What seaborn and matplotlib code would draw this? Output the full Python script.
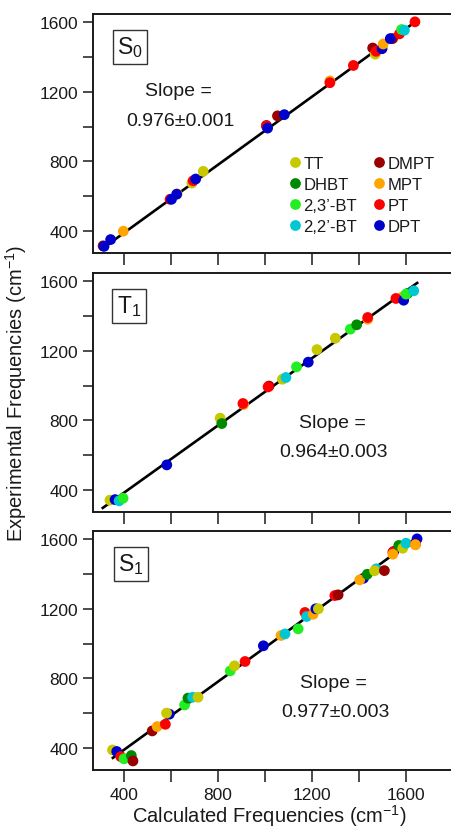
import numpy as np
import pandas as pd
import matplotlib
matplotlib.use("Agg")
import matplotlib.pyplot as plt
import seaborn as sns

# ---- data -------------------------------------------------------------
species_order = ["TT", "DHBT", "2,3\u2019-BT", "2,2\u2019-BT", "DMPT", "MPT", "PT", "DPT"]
species_colors = ["#c8c800", "#008a00", "#22ee22", "#00c8d2", "#990000", "#ffa500", "#ff0000", "#0000cc"]

# S0 state
s0_species = ["DMPT", "DPT", "DPT", "MPT", "PT", "DPT", "MPT", "DPT", "TT", "PT", "DPT", "TT",
              "DMPT", "PT", "DPT", "DMPT", "DPT", "MPT", "PT", "PT", "DMPT", "TT", "PT", "DPT",
              "MPT", "DMPT", "DPT", "PT", "2,3\u2019-BT", "2,2\u2019-BT", "PT"]
s0_calc = [311, 315, 343, 397, 596, 602, 626, 624, 689, 694, 705, 737,
           1006, 1006, 1011, 1053, 1082, 1276, 1276, 1376, 1458, 1469, 1472, 1498,
           1503, 1543, 1533, 1572, 1581, 1593, 1638]
s0_exp = [316, 313, 352, 400, 583, 583, 614, 612, 676, 689, 699, 743,
          1006, 1003, 991, 1061, 1068, 1261, 1251, 1350, 1450, 1415, 1431, 1446,
          1473, 1504, 1504, 1531, 1556, 1552, 1600]
s0_slope = 0.976
s0_fit_range = [300, 1640]

# T1 state
t1_species = ["TT", "DPT", "2,2\u2019-BT", "2,3\u2019-BT", "DPT", "TT", "DHBT", "MPT", "PT",
              "DMPT", "PT", "TT", "2,2\u2019-BT", "2,3\u2019-BT", "DPT", "TT", "TT",
              "2,3\u2019-BT", "DHBT", "MPT", "PT", "MPT", "PT", "DPT", "DHBT", "2,3\u2019-BT",
              "2,2\u2019-BT"]
t1_calc = [340, 362, 379, 396, 582, 809, 816, 909, 906,
           1017, 1013, 1074, 1089, 1134, 1184, 1221, 1299,
           1363, 1390, 1437, 1437, 1585, 1557, 1590, 1607, 1600,
           1633]
t1_exp = [343, 346, 339, 354, 545, 813, 782, 891, 897,
          997, 992, 1036, 1046, 1107, 1134, 1206, 1271,
          1323, 1348, 1380, 1390, 1508, 1499, 1489, 1528, 1524,
          1543]
t1_slope = 0.964
t1_fit_range = [305, 1652]

# S1 state
s1_species = ["TT", "DPT", "PT", "2,3\u2019-BT", "DHBT", "DMPT", "DMPT", "MPT", "PT", "DPT", "TT",
              "2,3\u2019-BT", "DHBT", "2,2\u2019-BT", "TT", "2,3\u2019-BT", "TT", "PT", "DPT",
              "MPT", "2,2\u2019-BT", "2,3\u2019-BT", "PT", "2,2\u2019-BT", "MPT", "DPT", "TT",
              "PT", "DMPT", "DPT", "MPT", "DHBT", "2,2\u2019-BT", "TT", "DMPT", "DPT", "PT",
              "MPT", "2,3\u2019-BT", "DHBT", "TT", "2,2\u2019-BT", "DPT", "PT", "MPT"]
s1_calc = [351, 369, 386, 400, 431, 438, 520, 541, 576, 593, 581,
           658, 672, 692, 715, 852, 870, 915, 993,
           1068, 1085, 1141, 1170, 1177, 1205, 1216, 1227,
           1297, 1311, 1419, 1403, 1435, 1473, 1466, 1508, 1548, 1544,
           1544, 1575, 1569, 1586, 1600, 1647, 1640, 1640]
s1_exp = [390, 381, 352, 339, 358, 327, 499, 524, 537, 595, 601,
          648, 687, 692, 692, 843, 872, 897, 987,
          1046, 1055, 1084, 1178, 1155, 1168, 1199, 1199,
          1275, 1279, 1374, 1365, 1397, 1428, 1417, 1418, 1528, 1524,
          1512, 1560, 1562, 1546, 1575, 1600, 1568, 1566]
s1_slope = 0.977
s1_fit_range = [348, 1634]

panels = [
    ("S_0", s0_species, s0_calc, s0_exp, s0_slope, "0.001", s0_fit_range),
    ("T_1", t1_species, t1_calc, t1_exp, t1_slope, "0.003", t1_fit_range),
    ("S_1", s1_species, s1_calc, s1_exp, s1_slope, "0.003", s1_fit_range),
]

x_ticks = [400, 800, 1200, 1600]
y_ticks = [400, 800, 1200, 1600]

# ---- style ------------------------------------------------------------
sns.set_style("ticks")
plt.rcParams["font.family"] = ["Liberation Sans", "DejaVu Sans"]
plt.rcParams["mathtext.fontset"] = "custom"
plt.rcParams["mathtext.rm"] = "Liberation Sans"
plt.rcParams["mathtext.it"] = "Liberation Sans:italic"
plt.rcParams["mathtext.bf"] = "Liberation Sans:bold"
text_color = "#1a1a1a"

W, H = 452, 829
fig = plt.figure(figsize=(W / 100, H / 100), dpi=100)

def px_to_fig(x, y):
    return x / W, 1 - y / H

left_px, right_px = 93, 456
xlim = (268, 268 + (right_px - left_px) / 0.235)
ylim = (275, 1645)
panel_px = [(15, 254), (274, 513), (532, 771)]
box_px = [(130, 48), (129, 307), (131, 565)]
slope_px = [(178, 92), (332, 424), (333, 684)]

palette = dict(zip(species_order, species_colors))
axes = []
for i, (state, sp, calc, exp, slope, err, fit_range) in enumerate(panels):
    top, bot = panel_px[i]
    ax = fig.add_axes([left_px / W, 1 - bot / H, (right_px - left_px) / W, (bot - top) / H])
    axes.append(ax)

    # least-squares line through the origin
    fx = np.array(fit_range, dtype=float)
    ax.plot(fx, slope * fx, color="black", lw=1.9, zorder=1, solid_capstyle="butt")

    df = pd.DataFrame({"calc": calc, "exp": exp, "species": sp})
    sns.scatterplot(data=df, x="calc", y="exp", hue="species", hue_order=species_order,
                    palette=palette, s=60, linewidth=0, alpha=1.0, ax=ax,
                    legend=(i == 0), zorder=3)

    ax.set_xlim(*xlim)
    ax.set_ylim(*ylim)
    ax.set_xticks(x_ticks)
    ax.set_xticks([600, 1000, 1400], minor=True)
    ax.set_yticks(y_ticks)
    ax.set_yticks([600, 1000, 1400], minor=True)
    ax.tick_params(axis="both", which="both", direction="out", width=1.1,
                   color=text_color, labelcolor=text_color, labelsize=12.5)
    ax.tick_params(axis="x", which="both", length=8.5, pad=4)
    ax.tick_params(axis="y", which="both", length=7.5, pad=3)
    if i < 2:
        ax.tick_params(axis="x", labelbottom=False)
    ax.set_xlabel("")
    ax.set_ylabel("")
    for s in ax.spines.values():
        s.set_linewidth(1.4)
        s.set_color(text_color)

    bx, by = px_to_fig(*box_px[i])
    fig.text(bx, by, r"$\mathregular{" + state + "}$", fontsize=16.5, ha="center", va="center",
             color=text_color,
             bbox=dict(boxstyle="square,pad=0.2", fc="white", ec="#333333", lw=1.0))

    sx, sy = px_to_fig(*slope_px[i])
    fig.text(sx, sy, "Slope =", fontsize=14, ha="center", va="center", color=text_color)
    sx2, sy2 = px_to_fig(slope_px[i][0] + 2, slope_px[i][1] + 29)
    fig.text(sx2, sy2, f"{slope:.3f}\u00b1{err}", fontsize=14, ha="center", va="center",
             color=text_color)

# legend in the top panel
ax0 = axes[0]
handles, labels = ax0.get_legend_handles_labels()
lx, ly = px_to_fig(289, 157)
leg = ax0.legend(handles, labels, ncol=2, frameon=False, fontsize=12,
                 loc="upper left", bbox_to_anchor=(lx, ly), bbox_transform=fig.transFigure,
                 handlelength=0.7, handletextpad=0.15, columnspacing=1.0,
                 labelspacing=0.36, borderpad=0, borderaxespad=0, markerscale=1.0)
for t in leg.get_texts():
    t.set_color(text_color)

xx, xy = px_to_fig(269, 816)
fig.text(xx, xy, "Calculated Frequencies (cm$^{-1}$)", fontsize=14.5, ha="center",
         va="center", color=text_color)
yx, yy = px_to_fig(16, 393)
fig.text(yx, yy, "Experimental Frequencies (cm$^{-1}$)", fontsize=14.5, rotation=90,
         ha="center", va="center", color=text_color)

fig.savefig("out.png", dpi=100)
